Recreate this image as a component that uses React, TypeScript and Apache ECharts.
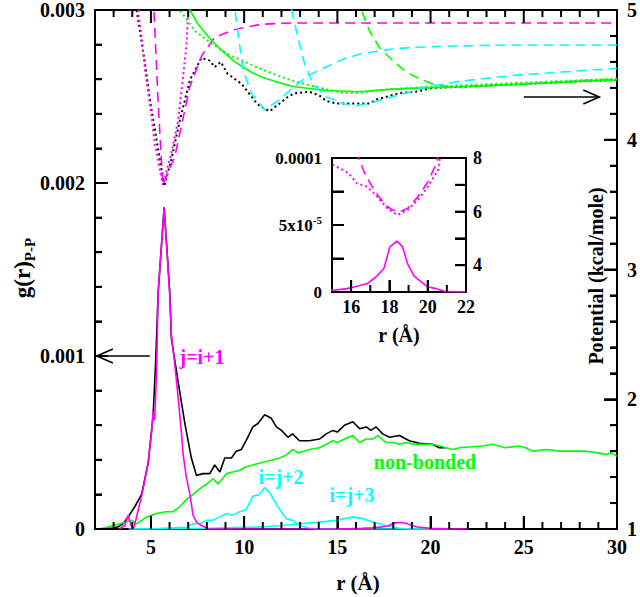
import React, { useEffect, useRef } from 'react';
import * as echarts from 'echarts';

const FONT = '"Liberation Serif", "Times New Roman", serif';

// ---- tick values ----
const xMajor = [5, 10, 15, 20, 25, 30];
const xMinor = [3, 4, 6, 7, 8, 9, 11, 12, 13, 14, 16, 17, 18, 19, 21, 22, 23, 24, 26, 27, 28, 29];
const yLeftMajor = [0, 0.001, 0.002, 0.003];
const yLeftMinor = [0.0002, 0.0004, 0.0006, 0.0008, 0.0012, 0.0014, 0.0016, 0.0018, 0.0022, 0.0024, 0.0026, 0.0028];
const yRightMajor = [1, 2, 3, 4, 5];
const yRightMinor = [1.2, 1.4, 1.6, 1.8, 2.2, 2.4, 2.6, 2.8, 3.2, 3.4, 3.6, 3.8, 4.2, 4.4, 4.6, 4.8];
const insetXMajor = [16, 18, 20, 22];
const insetXMinor = [17, 19, 21];
const insetYLeftTicks = [0.000025, 0.00005, 0.000075];
const insetYRightTicks = [4, 5, 6, 7];

// ---- g(r) data (left axis) ----
const gTotal = [
  [2.0, 0], [3.0, 0.000005], [3.25, 0.000013], [3.5, 0.00003], [3.78, 0.00007], [4.14, 0.00013],
  [4.5, 0.0002], [4.85, 0.00038], [5.12, 0.00066], [5.25, 0.00096], [5.39, 0.00137], [5.71, 0.00186],
  [6.01, 0.00137], [6.1, 0.0011], [6.46, 0.00085], [6.82, 0.00061], [7.17, 0.00041], [7.44, 0.00031],
  [7.8, 0.00032], [8.16, 0.00032], [8.42, 0.00037], [8.7, 0.00033], [8.96, 0.00041], [9.32, 0.00041],
  [9.58, 0.00045], [9.85, 0.00046], [10.1, 0.00051], [10.47, 0.00059], [10.74, 0.00061], [11.1, 0.00066],
  [11.46, 0.00064], [11.73, 0.00059], [12.0, 0.00057], [12.35, 0.00053], [12.6, 0.00055], [12.97, 0.00051],
  [13.5, 0.00051], [14.04, 0.00052], [14.4, 0.00055], [14.76, 0.00057], [15.0, 0.00056], [15.38, 0.0006],
  [15.83, 0.00062], [16.19, 0.00058], [16.55, 0.00059], [16.8, 0.00057], [17.08, 0.00059], [17.43, 0.00055],
  [17.8, 0.00053], [18.33, 0.00054], [18.86, 0.00051], [19.4, 0.000495], [20.1, 0.00049], [20.47, 0.00047],
  [20.83, 0.00047]
];
const gNonBonded = [
  [2.0, 0], [2.3, 0], [2.98, 0.00002], [3.52, 0.000036], [3.96, 0.00005], [4.23, 0.00003], [4.5, 0.00005],
  [4.77, 0.00007], [5.3, 0.00009], [5.8, 0.0001], [6.2, 0.0001], [6.55, 0.00013], [6.9, 0.00017],
  [7.26, 0.0002], [7.6, 0.00023], [7.98, 0.00026], [8.33, 0.00029], [8.6, 0.00026], [9.05, 0.00032],
  [9.4, 0.00033], [9.76, 0.00034], [10.1, 0.00036], [10.47, 0.00037], [10.8, 0.00038], [11.2, 0.00039],
  [11.55, 0.0004], [11.9, 0.00041], [12.3, 0.00043], [12.6, 0.00046], [12.9, 0.00044], [13.2, 0.00045],
  [13.5, 0.00046], [14.04, 0.00047], [14.4, 0.00049], [14.76, 0.00051], [15.0, 0.0005], [15.38, 0.00052],
  [15.83, 0.00054], [16.19, 0.0005], [16.55, 0.00052], [16.9, 0.00052], [17.17, 0.00054], [17.6, 0.0005],
  [18.0, 0.0005], [18.33, 0.00049], [18.7, 0.0005], [19.04, 0.00049], [19.5, 0.00049], [20.1, 0.00049],
  [20.5, 0.00048], [20.83, 0.00047], [21.2, 0.00046], [21.54, 0.00047], [22.25, 0.000475], [22.8, 0.00048],
  [23.3, 0.00049], [24.0, 0.00047], [24.75, 0.00048], [25.1, 0.00047], [25.46, 0.00045], [26.2, 0.00046],
  [26.9, 0.00045], [27.6, 0.00045], [28.3, 0.00045], [28.6, 0.000445], [29.0, 0.00044], [29.4, 0.00043],
  [29.7, 0.00044], [30, 0.00042]
];
const gJ2 = [
  [3.8, 0], [4.6, 0], [5.5, 0.000003], [6.9, 0.00001], [7.26, 0.00003], [7.6, 0.00003], [7.98, 0.00005],
  [8.3, 0.00005], [8.7, 0.00007], [9.05, 0.00009], [9.4, 0.00008], [9.76, 0.0001], [10.1, 0.00011],
  [10.47, 0.00019], [10.83, 0.0002], [11.1, 0.00024], [11.37, 0.00021], [11.8, 0.00013], [12.26, 0.00006],
  [12.6, 0.00005], [12.97, 0.00002], [13.5, 0.000004], [14.0, 0], [20, 0]
];
const gJ3 = [
  [4.0, 0], [6, 0.000002], [8, 0.000004], [10, 0.00001], [11, 0.000012], [12, 0.00002], [13, 0.00003],
  [14.04, 0.00004], [14.94, 0.00005], [15.4, 0.00006], [15.83, 0.00007], [16.37, 0.00006], [16.9, 0.00004],
  [17.6, 0.00002], [18.33, 0.000004], [19.0, 0], [21, 0]
];
const gJ1 = [
  [3.3, 0], [3.6, 0.00002], [3.78, 0.00008], [3.9, 0.00003], [4.05, 0], [4.14, 0.00003], [4.5, 0.00019],
  [4.85, 0.00038], [5.03, 0.00055], [5.12, 0.00068], [5.2, 0.00063], [5.3, 0.00089], [5.39, 0.00137],
  [5.71, 0.00186], [6.01, 0.00135], [6.1, 0.00112], [6.28, 0.00095], [6.46, 0.00076], [6.64, 0.00055],
  [6.73, 0.00043], [6.9, 0.0003], [7.09, 0.0002], [7.26, 0.00008], [7.44, 0.00004], [7.71, 0.00002],
  [8.07, 0], [12, 0], [15.07, 0.0000013], [15.78, 0.0000025], [16.31, 0.0000043], [16.84, 0.0000063],
  [17.28, 0.000011], [17.71, 0.0000175], [18.02, 0.0000337], [18.39, 0.000038], [18.69, 0.0000337],
  [18.95, 0.000021], [19.3, 0.0000117], [20.01, 0.0000037], [20.45, 0.0000025], [20.89, 0.0000005], [22, 0]
];

// ---- potentials (right axis, kcal/mole) ----
const vJ1Dash = [
  [4.95, 5.6], [5.16, 5.0], [5.39, 4.28], [5.64, 3.65], [6.28, 3.87], [7.09, 4.41], [7.73, 4.65],
  [8.42, 4.79], [9.5, 4.85], [10.9, 4.89], [12.5, 4.9], [30, 4.9]
];
const vJ1Dot = [
  [4.15, 5.5], [4.3, 5.0], [4.5, 4.79], [4.68, 4.54], [4.94, 4.28], [5.21, 3.97], [5.64, 3.65], [6.1, 3.9],
  [6.46, 4.15], [6.73, 4.49], [6.91, 4.74], [7.0, 5.0], [7.1, 5.5]
];
const vTotalDot = [
  [4.1, 5.5], [4.23, 5.0], [4.41, 4.84], [4.68, 4.59], [4.94, 4.31], [5.21, 4.08], [5.48, 3.85], [5.71, 3.64],
  [6.1, 3.85], [6.55, 4.15], [7.09, 4.46], [7.71, 4.63], [8.16, 4.61], [8.42, 4.56], [8.75, 4.6], [9.1, 4.51],
  [9.87, 4.43], [10.57, 4.3], [10.83, 4.26], [11.37, 4.22], [11.9, 4.28], [12.44, 4.34], [12.8, 4.36],
  [13.5, 4.37], [14.04, 4.34], [14.4, 4.3], [14.94, 4.28], [15.65, 4.28], [16.2, 4.28], [16.72, 4.28],
  [17.08, 4.31], [17.6, 4.33], [18.33, 4.36], [19.2, 4.37], [20.1, 4.4], [22, 4.41], [25, 4.43], [28, 4.45],
  [30, 4.46]
];
const vNbSolid = [
  [6.9, 5.2], [7.09, 5.0], [7.53, 4.89], [8.16, 4.78], [8.78, 4.69], [9.5, 4.6], [10.39, 4.52], [11.0, 4.48],
  [11.64, 4.45], [12.6, 4.41], [14.4, 4.38], [16.2, 4.37], [17.95, 4.39], [19.8, 4.4], [22, 4.41], [25, 4.43],
  [28, 4.45], [30, 4.46]
];
const vNbDot = [
  [6.35, 5.3], [6.55, 5.0], [7.35, 4.84], [8.26, 4.74], [9.1, 4.66], [10.2, 4.59], [11.0, 4.54], [11.9, 4.49],
  [12.7, 4.45], [13.5, 4.42], [14.4, 4.39], [15.3, 4.36], [16.2, 4.36], [17.1, 4.38], [17.95, 4.39],
  [20, 4.41], [25, 4.44], [30, 4.47]
];
const vNbDash = [
  [16.0, 5.6], [16.28, 5.0], [16.72, 4.84], [17.26, 4.71], [17.97, 4.61], [18.7, 4.52], [19.4, 4.47],
  [20.1, 4.43], [20.8, 4.41], [22, 4.41], [25, 4.43], [30, 4.47]
];
const vJ2Dash = [
  [9.35, 5.6], [9.5, 5.0], [9.94, 4.54], [10.39, 4.36], [11.1, 4.23], [11.9, 4.31], [12.6, 4.4], [13.5, 4.5],
  [14.4, 4.56], [15.3, 4.62], [16.19, 4.66], [17.08, 4.68], [17.97, 4.7], [18.86, 4.71], [20.6, 4.72],
  [24, 4.73], [30, 4.73]
];
const vJ3Dash = [
  [12.45, 5.5], [12.55, 5.0], [12.88, 4.79], [13.24, 4.59], [13.69, 4.43], [14.4, 4.33], [15.3, 4.28],
  [15.92, 4.26], [16.72, 4.28], [17.6, 4.32], [18.7, 4.36], [19.76, 4.41], [20.8, 4.43], [21.5, 4.45],
  [24.75, 4.5], [30, 4.55]
];

// ---- inset potentials (inset right axis) ----
const insetDashV = [
  [16.3, 8.3], [16.39, 7.99], [16.75, 7.36], [17.1, 6.93], [17.45, 6.55], [17.8, 6.24], [18.16, 6.06],
  [18.51, 5.99], [18.95, 6.12], [19.48, 6.55], [20.01, 7.11], [20.45, 7.8], [20.6, 8.3]
];
const insetDotV = [
  [14.8, 7.85], [15.07, 7.74], [15.42, 7.61], [15.86, 7.43], [16.31, 7.05], [16.84, 6.93], [17.37, 6.55],
  [17.89, 6.12], [18.42, 5.87], [18.95, 6.06], [19.48, 6.43], [20.01, 6.93], [20.54, 7.55], [20.62, 7.93],
  [20.7, 8.3]
];

const BLACK = '#000000';
const MAGENTA = '#ff00ff';
const CYAN = '#00ffff';
const GREEN = '#00ff00';

const mkLine = () => ({ show: true, onZero: false, lineStyle: { color: BLACK, width: 2 } });
const labelBase = { color: BLACK, fontFamily: FONT, fontWeight: 'bold' as const };

function line(data: number[][], color: string, xi: number, yi: number, type: any = 'solid', width = 1.6, z = 2) {
  return {
    type: 'line', data, xAxisIndex: xi, yAxisIndex: yi, symbol: 'none', z,
    lineStyle: { color, width, type },
  };
}

const DASH = [10, 6];
const DOT = [2, 3];

export default function App() {
  const ref = useRef<HTMLDivElement>(null);
  useEffect(() => {
    if (!ref.current) return;
    document.body.style.margin = '0';
    const chart = echarts.init(ref.current, null, { renderer: 'svg' });
    const frame = { show: true, borderColor: BLACK, borderWidth: 2, backgroundColor: 'transparent' };
    const option: any = {
      animation: false,
      grid: [
        { left: 95, top: 6, width: 523, height: 523, ...frame },
        { left: 332, top: 158, width: 134, height: 134, ...frame },
      ],
      xAxis: [
        {
          type: 'value', gridIndex: 0, min: 2, max: 30, axisLine: mkLine(),
          axisTick: { show: true, inside: true, length: 13, customValues: xMajor, lineStyle: { color: BLACK, width: 2 } },
          axisLabel: { customValues: xMajor, fontSize: 20, margin: 8, ...labelBase }, splitLine: { show: false },
        },
        {
          type: 'value', gridIndex: 1, min: 15, max: 22, axisLine: mkLine(),
          axisTick: { show: true, inside: true, length: 12, customValues: insetXMajor, lineStyle: { color: BLACK, width: 2 } },
          axisLabel: { customValues: insetXMajor, fontSize: 18, margin: 6, ...labelBase }, splitLine: { show: false },
        },
      ],
      yAxis: [
        {
          type: 'value', gridIndex: 0, position: 'left', min: 0, max: 0.003, interval: 0.001,
          axisLine: mkLine(), axisTick: { show: true, inside: true, length: 13, lineStyle: { color: BLACK, width: 2 } },
          minorTick: { show: true, splitNumber: 5, length: 7, lineStyle: { color: BLACK, width: 2 } },
          axisLabel: { fontSize: 20, margin: 10, ...labelBase, formatter: (v: number) => (Math.abs(v) < 1e-9 ? '0' : v.toFixed(3)) },
          splitLine: { show: false }, minorSplitLine: { show: false },
        },
        {
          type: 'value', gridIndex: 0, position: 'right', min: 1, max: 5, interval: 1,
          axisLine: mkLine(), axisTick: { show: true, inside: true, length: 13, lineStyle: { color: BLACK, width: 2 } },
          minorTick: { show: true, splitNumber: 5, length: 7, lineStyle: { color: BLACK, width: 2 } },
          axisLabel: { fontSize: 20, margin: 10, ...labelBase, formatter: (v: number) => String(Math.round(v)) },
          splitLine: { show: false }, minorSplitLine: { show: false },
        },
        {
          type: 'value', gridIndex: 1, position: 'left', min: 0, max: 0.0001, interval: 0.000025,
          axisLine: mkLine(), axisTick: { show: true, inside: true, length: 12, lineStyle: { color: BLACK, width: 2 } },
          axisLabel: {
            fontSize: 17, margin: 10, ...labelBase,
            formatter: (v: number) => {
              if (Math.abs(v) < 1e-12) return '{a|0}';
              if (Math.abs(v - 0.00005) < 1e-12) return '{a|5x10}{s|-5}';
              if (Math.abs(v - 0.0001) < 1e-12) return '{a|0.0001}';
              return '';
            },
            rich: {
              a: { fontSize: 17, fontWeight: 'bold', fontFamily: FONT, color: BLACK, lineHeight: 22 },
              s: { fontSize: 11, fontWeight: 'bold', fontFamily: FONT, color: BLACK, lineHeight: 11, verticalAlign: 'top' },
            },
          },
          splitLine: { show: false },
        },
        {
          type: 'value', gridIndex: 1, position: 'right', min: 3, max: 8, interval: 1,
          axisLine: mkLine(), axisTick: { show: true, inside: true, length: 11, lineStyle: { color: BLACK, width: 2 } },
          axisLabel: { fontSize: 18, margin: 7, ...labelBase, formatter: (v: number) => (Math.round(v) % 2 === 0 ? String(Math.round(v)) : '') },
          splitLine: { show: false },
        },
      ],
      series: [
        line(gTotal, BLACK, 0, 0, 'solid', 1.6, 2),
        line(gNonBonded, GREEN, 0, 0, 'solid', 1.6, 3),
        line(gJ2, CYAN, 0, 0, 'solid', 1.6, 3),
        line(gJ3, CYAN, 0, 0, 'solid', 1.6, 3),
        line(gJ1, MAGENTA, 0, 0, 'solid', 1.6, 4),
        line(vJ1Dash, MAGENTA, 0, 1, DASH, 1.6, 3),
        line(vJ1Dot, MAGENTA, 0, 1, DOT, 2, 3),
        line(vTotalDot, BLACK, 0, 1, DOT, 2, 2),
        line(vNbSolid, GREEN, 0, 1, 'solid', 1.6, 3),
        line(vNbDot, GREEN, 0, 1, DOT, 2, 3),
        line(vNbDash, GREEN, 0, 1, DASH, 1.6, 3),
        line(vJ2Dash, CYAN, 0, 1, DASH, 1.6, 3),
        line(vJ3Dash, CYAN, 0, 1, DASH, 1.6, 3),
        line(gJ1, MAGENTA, 1, 2, 'solid', 1.6, 4),
        line(insetDashV, MAGENTA, 1, 3, DASH, 1.6, 4),
        line(insetDotV, MAGENTA, 1, 3, DOT, 2, 4),
      ],
    };
    chart.setOption(option);

    const P = (si: number, x: number, y: number) => {
      const r = chart.convertToPixel({ seriesIndex: si }, [x, y]) as number[];
      return [r[0], r[1]];
    };
    const ticks: any[] = [];
    const tick = (a: number[], dx: number, dy: number) => {
      ticks.push({ type: 'polyline', z: 120, shape: { points: [[a[0], a[1]], [a[0] + dx, a[1] + dy]] }, style: { stroke: BLACK, lineWidth: 2, fill: null } });
    };
    xMinor.forEach((v) => { tick(P(0, v, 0), 0, -7); tick(P(0, v, 0.003), 0, 7); });
    xMajor.forEach((v) => { tick(P(0, v, 0.003), 0, 13); });
    yLeftMinor.forEach((v) => tick(P(0, 2, v), 7, 0));
    yRightMinor.forEach((v) => tick(P(5, 30, v), -7, 0));
    insetXMinor.forEach((v) => tick(P(13, v, 0), 0, -7));
    insetYLeftTicks.forEach((v) => tick(P(13, 15, v), 12, 0));
    insetYRightTicks.forEach((v) => tick(P(14, 22, v), -11, 0));
    yLeftMajor.forEach((v) => tick(P(0, 2, v), 13, 0));
    yRightMajor.forEach((v) => tick(P(5, 30, v), -13, 0));
    xMajor.forEach((v) => tick(P(0, v, 0), 0, -13));
    insetXMajor.forEach((v) => tick(P(13, v, 0), 0, -12));

    const tipL = P(0, 2.1, 0.001);
    const tailL = P(0, 4.94, 0.001);
    const tipR = P(5, 29.05, 4.33);
    const tailR = P(5, 25.0, 4.33);
    const arrowStyle = { stroke: BLACK, lineWidth: 1.6, fill: null };
    const txt = (x: number, y: number, text: string, color: string, size: number, rotation = 0) => ({
      type: 'text', x, y, rotation, silent: true, z: 100,
      style: { text, fill: color, font: `bold ${size}px ${FONT}`, align: 'center', verticalAlign: 'middle' },
    });

    chart.setOption({
      graphic: [
        { type: 'line', shape: { x1: tailL[0], y1: tailL[1], x2: tipL[0], y2: tipL[1] }, style: arrowStyle, z: 100 },
        { type: 'polyline', shape: { points: [[tipL[0] + 16, tipL[1] - 7], [tipL[0], tipL[1]], [tipL[0] + 16, tipL[1] + 7]] }, style: arrowStyle, z: 100 },
        { type: 'line', shape: { x1: tailR[0], y1: tailR[1], x2: tipR[0], y2: tipR[1] }, style: arrowStyle, z: 100 },
        { type: 'polyline', shape: { points: [[tipR[0] - 16, tipR[1] - 7], [tipR[0], tipR[1]], [tipR[0] - 16, tipR[1] + 7]] }, style: arrowStyle, z: 100 },
        txt(202, 357, 'j=i+1', MAGENTA, 20),
        txt(281, 477, 'i=j+2', CYAN, 20),
        txt(352, 495, 'i=j+3', CYAN, 20),
        txt(425, 462, 'non-bonded', GREEN, 20),
        txt(358, 583, 'r (Å)', BLACK, 21),
        txt(399, 335, 'r (Å)', BLACK, 20),
        txt(596, 276, 'Potential (kcal/mole)', BLACK, 20, Math.PI / 2),
        {
          type: 'text', x: 22, y: 268, rotation: Math.PI / 2, silent: true, z: 100,
          style: {
            text: '{a|g(r)}{b|P-P}', align: 'center', verticalAlign: 'middle',
            rich: {
              a: { fontSize: 23, fontWeight: 'bold', fontFamily: FONT, fill: BLACK, lineHeight: 30 },
              b: { fontSize: 15, fontWeight: 'bold', fontFamily: FONT, fill: BLACK, lineHeight: 15, verticalAlign: 'bottom' },
            },
          },
        },
        ...ticks,
      ],
    });

    return () => chart.dispose();
  }, []);
  return <div ref={ref} style={{ width: 640, height: 597 }} />;
}
